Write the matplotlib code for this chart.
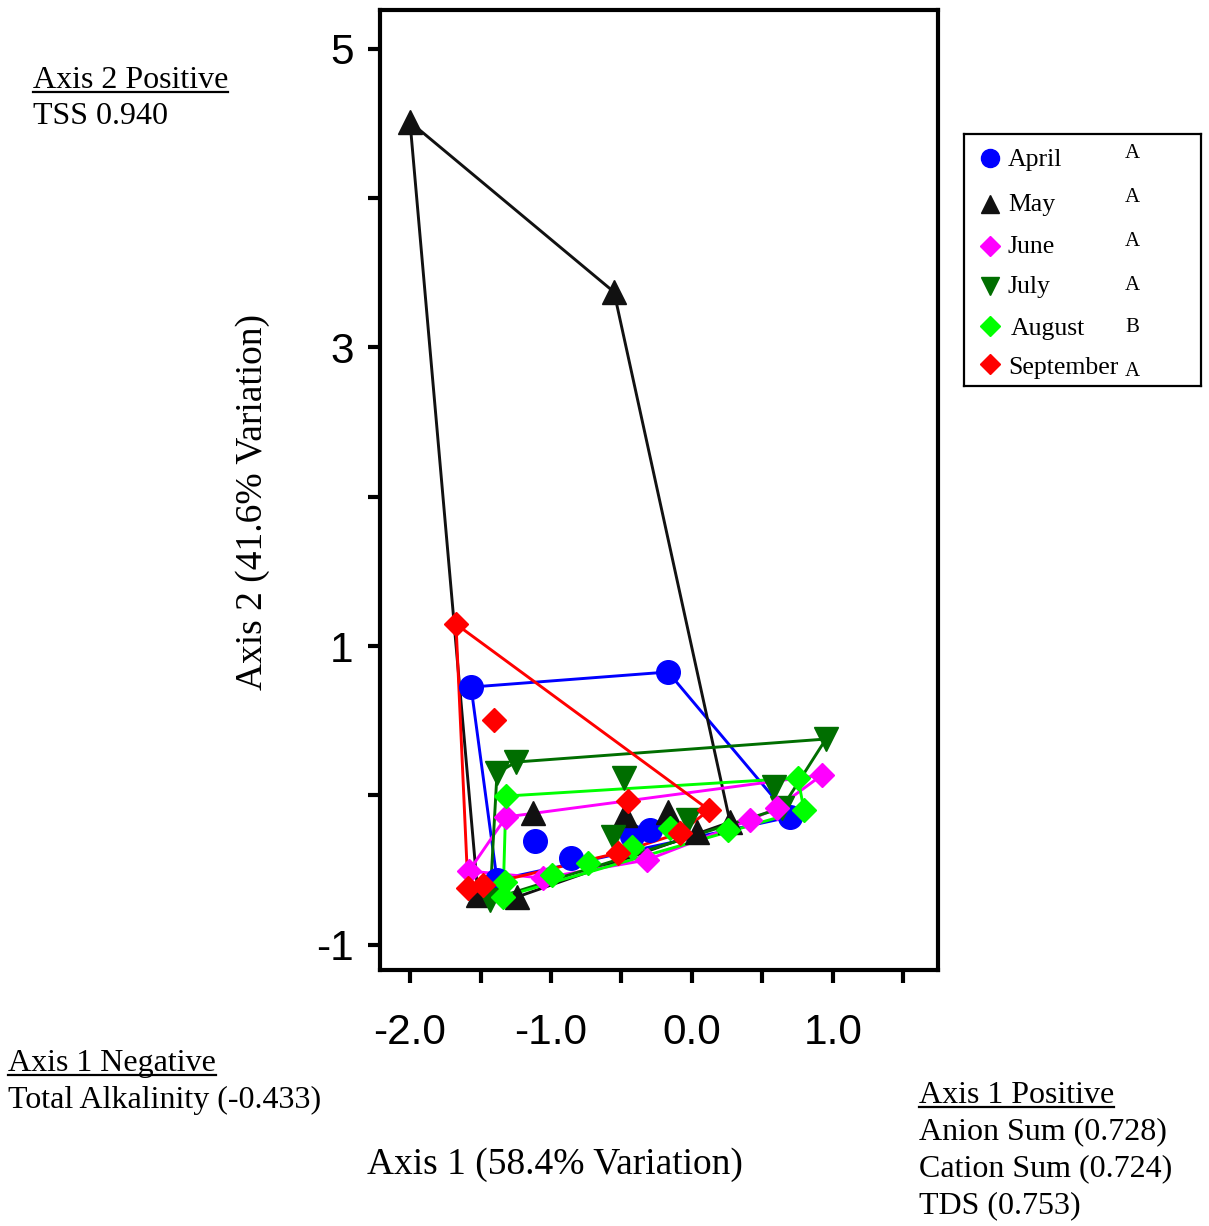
import matplotlib
matplotlib.use('Agg')
import matplotlib.pyplot as plt
import numpy as np

W, H = 1209, 1226

# ---------------- data ----------------
months = ["April", "May", "June", "July", "August", "September"]
groups = ["A", "A", "A", "A", "B", "A"]
colors = ["#0000FF", "#111111", "#FF00FF", "#006E00", "#00FF00", "#FF0000"]
markers = ["o", "^", "D", "v", "D", "D"]

april_x = [-1.567, -0.170, 0.695, -1.383, -1.113, -0.858, -0.426, -0.298]
april_y = [0.725, 0.826, -0.145, -0.567, -0.306, -0.420, -0.273, -0.232]

may_x = [-2.000, -0.553, 0.270, -1.241, -1.518, -1.128, -0.475, -0.170, 0.035]
may_y = [4.510, 3.371, -0.180, -0.681, -0.668, -0.119, -0.132, -0.112, -0.246]

june_x = [-1.582, -1.319, 0.922, 0.411, -0.319, -1.057, 0.603]
june_y = [-0.507, -0.145, 0.136, -0.165, -0.433, -0.554, -0.085]

july_x = [0.950, -1.248, -1.383, -0.482, 0.582, 0.638, -0.560, -0.028, -1.433]
july_y = [0.377, 0.223, 0.149, 0.116, 0.056, -0.085, -0.280, -0.165, -0.700]

august_x = [-1.319, 0.752, 0.794, 0.255, -0.156, -0.426, -0.738, -0.993, -1.326, -1.340]
august_y = [-0.005, 0.116, -0.098, -0.232, -0.219, -0.346, -0.453, -0.534, -0.580, -0.680]

september_x = [-1.674, -1.404, 0.121, -0.454, -0.085, -0.525, -1.589, -1.482]
september_y = [1.147, 0.504, -0.098, -0.038, -0.253, -0.386, -0.621, -0.601]

series_x = [april_x, may_x, june_x, july_x, august_x, september_x]
series_y = [april_y, may_y, june_y, july_y, august_y, september_y]

x_ticks = [-2.0, -1.5, -1.0, -0.5, 0.0, 0.5, 1.0, 1.5]
x_ticklabels = ["-2.0", "", "-1.0", "", "0.0", "", "1.0", ""]
y_ticks = [-1, 0, 1, 2, 3, 4, 5]
y_ticklabels = ["-1", "", "1", "", "3", "", "5"]


def convex_hull(xs, ys):
    pts = sorted(set(zip(xs, ys)))
    if len(pts) < 3:
        return pts

    def cross(o, a, b):
        return (a[0] - o[0]) * (b[1] - o[1]) - (a[1] - o[1]) * (b[0] - o[0])
    lower, upper = [], []
    for p in pts:
        while len(lower) >= 2 and cross(lower[-2], lower[-1], p) <= 0:
            lower.pop()
        lower.append(p)
    for p in reversed(pts):
        while len(upper) >= 2 and cross(upper[-2], upper[-1], p) <= 0:
            upper.pop()
        upper.append(p)
    return lower[:-1] + upper[:-1]


# ---------------- figure ----------------
fig = plt.figure(figsize=(W / 100, H / 100), dpi=100)
ax = fig.add_axes([380 / W, 1 - 970 / H, 558 / W, 960 / H])
ax.set_xlim(-2.213, 1.745)
ax.set_ylim(-1.170, 5.260)

# hull lines
for xs, ys, c in zip(series_x, series_y, colors):
    hull = convex_hull(xs, ys)
    hx = [p[0] for p in hull] + [hull[0][0]]
    hy = [p[1] for p in hull] + [hull[0][1]]
    ax.plot(hx, hy, color=c, lw=2.1, zorder=2, solid_joinstyle='miter')

# markers (drawing order for overlap)
order = [0, 1, 3, 2, 4, 5]
msizes = {"o": 17, "^": 17, "v": 17, "D": 12.5}
for k, i in enumerate(order):
    ax.plot(series_x[i], series_y[i], linestyle='none', marker=markers[i],
            ms=msizes[markers[i]], color=colors[i], mec=colors[i], zorder=3 + k)

for s in ax.spines.values():
    s.set_linewidth(3)
ax.set_xticks(x_ticks)
ax.set_xticklabels(x_ticklabels, fontfamily='Liberation Sans', fontsize=30.5)
ax.set_yticks(y_ticks)
ax.set_yticklabels(y_ticklabels, fontfamily='Liberation Sans', fontsize=30.5)
ax.tick_params(axis='x', direction='out', length=9, width=3, pad=22)
ax.tick_params(axis='y', direction='out', length=9, width=3, pad=10)

serif = 'Liberation Serif'
fig.text(555 / W, 1 - 1165 / H, "Axis 1 (58.4% Variation)", fontfamily=serif,
         fontsize=27, ha='center', va='center')
fig.text(253 / W, 1 - 502 / H, "Axis 2 (41.6% Variation)", fontfamily=serif,
         fontsize=27, ha='center', va='center', rotation=90)

# annotation blocks: (text, x_left_px, baseline_px, underline)
notes = [
    ("Axis 2 Positive", 33, 88, True),
    ("TSS 0.940", 33, 124, False),
    ("Axis 1 Negative", 8, 1071, True),
    ("Total Alkalinity (-0.433)", 8, 1108, False),
    ("Axis 1 Positive", 919, 1103, True),
    ("Anion Sum (0.728)", 919, 1139, False),
    ("Cation Sum (0.724)", 919, 1176, False),
    ("TDS (0.753)", 919, 1213, False),
]
fig.canvas.draw()
renderer = fig.canvas.get_renderer()
for txt, xl, yb, ul in notes:
    t = fig.text(xl / W, 1 - yb / H, txt, fontfamily=serif, fontsize=23,
                 ha='left', va='baseline')
    if ul:
        bb = t.get_window_extent(renderer=renderer)
        yline = 1 - (yb + 4) / H
        fig.add_artist(plt.Line2D([bb.x0 / W, bb.x1 / W], [yline, yline],
                                  color='black', lw=1.6,
                                  transform=fig.transFigure))

# legend box
lg = fig.add_axes([964 / W, 1 - 386 / H, 237 / W, 252 / H])
lg.set_xlim(964, 1201)
lg.set_ylim(386, 134)
lg.set_xticks([])
lg.set_yticks([])
for s in lg.spines.values():
    s.set_linewidth(1.6)
leg_marker_y = [158, 204, 246, 286, 326, 364]
leg_text_y = [160, 205, 247, 287, 329, 368]
leg_text_x = [1008, 1008, 1008, 1008, 1011, 1008]
leg_group_y = [154, 198, 242, 285, 328, 371]
leg_ms = {"o": 13, "^": 13, "v": 13, "D": 10}
for i, m in enumerate(months):
    lg.plot([990], [leg_marker_y[i]], marker=markers[i], ms=leg_ms[markers[i]],
            color=colors[i], linestyle='none')
    lg.text(leg_text_x[i], leg_text_y[i], m, fontfamily=serif, fontsize=18.5,
            ha='left', va='center')
    lg.text(1125, leg_group_y[i], groups[i], fontfamily=serif, fontsize=15,
            ha='left', va='center')

fig.savefig("out.png", dpi=100)
